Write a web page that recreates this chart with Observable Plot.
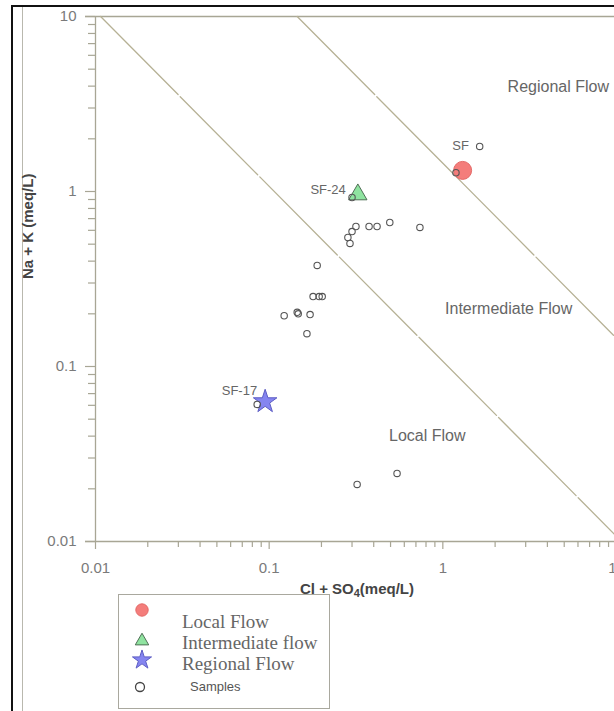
<!DOCTYPE html>
<html><head><meta charset="utf-8">
<script src="https://cdn.jsdelivr.net/npm/d3@7"></script>
<script src="https://cdn.jsdelivr.net/npm/@observablehq/plot@0.6"></script>
<style>
body{margin:0;background:#fff;}
#wrap{position:relative;width:614px;height:711px;overflow:hidden;font-family:"Liberation Sans",Arial,sans-serif;background:#fff;}
#frameBlack{position:absolute;left:11px;top:5px;width:800px;height:900px;border-left:2px solid #111;border-top:2px solid #111;}
#frameGray{position:absolute;left:22px;top:7px;width:0;height:900px;border-left:1px solid #b9b8ae;}
#chart{position:absolute;left:0;top:0;}
#legend{position:absolute;left:118px;top:594px;width:212px;height:115px;border:1px solid #a9a89e;box-sizing:border-box;background:#fff;}
#legend .lt{position:absolute;font-family:"Liberation Serif","Times New Roman",serif;font-size:19px;color:#666;line-height:19px;white-space:nowrap;}
#legend .ls{position:absolute;font-family:"Liberation Sans",Arial,sans-serif;font-size:13px;color:#555;line-height:14px;white-space:nowrap;}
#legend svg{position:absolute;left:0;top:0;}
</style></head>
<body>
<div id="wrap">
  <div id="frameBlack"></div>
  <div id="frameGray"></div>
  <div id="chart"></div>
  <div id="legend"></div>
</div>
<script>
// ---- data ----
const sampleX = [0.300,0.316,0.300,0.284,0.292,0.376,0.418,0.495,0.738,0.189,0.179,0.194,0.202,0.122,0.145,0.147,0.172,0.165,0.321,0.545,0.0853,1.19,1.63];
const sampleY = [0.924,0.631,0.590,0.546,0.505,0.631,0.631,0.665,0.623,0.378,0.251,0.251,0.251,0.195,0.204,0.200,0.198,0.154,0.0212,0.0245,0.0607,1.28,1.81];

const flowTypes = ["Local Flow","Intermediate flow","Regional Flow"];
const flowNames = ["SF","SF-24","SF-17"];
const flowX = [1.30,0.324,0.0948];
const flowY = [1.32,0.961,0.063];

const boundaryProducts = [0.107, 1.45];

const zoneLabels = ["Regional Flow","Intermediate Flow","Local Flow"];
const zoneX = [2.36,1.03,0.49];
const zoneY = [3.98,0.214,0.0403];

const majorTicks = [0.01,0.1,1,10];
const tickLabels = ["0.01","0.1","1","10"];
const minorMultipliers = [2,3,4,5,6,7,8,9];

const xTitle = "Cl + SO4(meq/L)";
const yTitle = "Na + K (meq/L)";
const legendSamples = "Samples";

// ---- derived tables ----
const samples = sampleX.map((x,i)=>({x, y: sampleY[i]}));
const flows = flowX.map((x,i)=>({x, y: flowY[i], name: flowNames[i], type: flowTypes[i]}));
const boundaries = boundaryProducts.flatMap((c,i)=>[{id:i,x:c/10,y:10},{id:i,x:10,y:c/10}]);
const zones = zoneLabels.map((t,i)=>({t, x: zoneX[i], y: zoneY[i]}));
const minorTicks = majorTicks.slice(0,3).flatMap(d => minorMultipliers.map(m => +(d*m).toPrecision(3)));
const fmt = d => tickLabels[majorTicks.indexOf(d)];

// pixel geometry of the log axes
const xPx = [95, 616], yPx = [541, 16];
const xDecade = (xPx[1]-xPx[0])/3, yDecade = (yPx[0]-yPx[1])/3;
const xOff = px => 0.01 * Math.pow(10, px / xDecade);   // x value px pixels right of 0.01
const yOff = px => 0.01 * Math.pow(10, px / yDecade);   // y value px pixels above 0.01

const axisColor = "#a8a695";
const lineColor = "#b6b195";
const font = "Liberation Sans, Arial, sans-serif";

const symbolFor = ["circle","triangle","star"];
const fillFor = ["#f47d7b","#8fe3a0","#8585f0"];
const strokeFor = ["#e46a68","#4f6f55","#5d5dc4"];
const rFor = [9,6.8,7.4];
const labelDx = [-2,-12,-8];
const labelDy = [-25,-5,-11];
const labelAnchor = ["middle","end","end"];

const chart = Plot.plot({
  width: 614, height: 600,
  marginLeft: 95, marginRight: 0, marginTop: 16, marginBottom: 59,
  x: {type:"log", domain:[0.01,10], range:xPx, axis: null},
  y: {type:"log", domain:[0.01,10], range:yPx, axis: null},
  style: {background:"transparent", fontFamily: font, overflow:"visible"},
  marks: [
    Plot.ruleX([0.01], {y1: 0.01, y2: 10, stroke: axisColor, strokeWidth: 1.3}),
    Plot.ruleY([0.01], {stroke: axisColor, strokeWidth: 1.3, x1: xOff(-10), x2: 10}),
    Plot.ruleY([10], {stroke: axisColor, strokeWidth: 1.3, x1: xOff(-10), x2: 10}),
    // y ticks
    Plot.ruleY(minorTicks, {y: d => d, x1: xOff(-7), x2: 0.01, stroke: axisColor, strokeWidth: 1.2}),
    Plot.ruleY(majorTicks, {y: d => d, x1: xOff(-10), x2: 0.01, stroke: axisColor, strokeWidth: 1.2}),
    Plot.text(majorTicks, {x: 0.01, y: d => d, text: fmt, dx: -19, textAnchor: "end", fill: "#7a7a7a", fontSize: 15}),
    // x ticks
    Plot.ruleX(minorTicks, {x: d => d, y1: 0.01, y2: yOff(-6), stroke: axisColor, strokeWidth: 1.2}),
    Plot.ruleX(majorTicks, {x: d => d, y1: 0.01, y2: yOff(-8), stroke: axisColor, strokeWidth: 1.2}),
    Plot.text(majorTicks, {x: d => d, y: 0.01, text: fmt, dy: 27, fill: "#7a7a7a", fontSize: 15}),
    // boundaries
    Plot.line(boundaries, {x:"x", y:"y", z:"id", stroke: lineColor, strokeWidth: 1.3, strokeDasharray: "110,3"}),
    Plot.text(zones, {x:"x", y:"y", text:"t", textAnchor:"start", fill:"#666", fontSize: 16}),
    ...flows.map((f,i) => Plot.dot([f], {x:"x", y:"y", symbol: symbolFor[i], r: rFor[i], fill: fillFor[i], stroke: strokeFor[i], strokeWidth: 1})),
    ...flows.map((f,i) => Plot.text([f], {x:"x", y:"y", text:"name", textAnchor: labelAnchor[i], dx: labelDx[i], dy: labelDy[i], fill:"#666", fontSize: 13})),
    Plot.dot(samples, {x:"x", y:"y", r: 3.2, stroke:"#555", strokeWidth: 1.1, fill:"none"}),
    Plot.text([xTitle], {frameAnchor:"bottom", dx: 2, dy: 52, fontWeight:"bold", fontSize: 15, fill:"#444"}),
    Plot.text([yTitle], {frameAnchor:"left", rotate: -90, dx: -67, fontWeight:"bold", fontSize: 15, fill:"#444"})
  ]
});
document.getElementById("chart").appendChild(chart);

// subscript in x title
d3.select(chart).selectAll("text").filter(function(){ return this.textContent === xTitle; }).each(function(){
  const t = d3.select(this);
  t.text(null);
  t.append("tspan").text("Cl + SO");
  t.append("tspan").attr("font-size","11").attr("dy","3").text("4");
  t.append("tspan").attr("dy","-3").text("(meq/L)");
});

// ---- legend ----
const legend = d3.select("#legend");
const lsvg = legend.append("svg").attr("width",210).attr("height",113);
const symMap = {circle: d3.symbolCircle, triangle: d3.symbolTriangle, star: d3.symbolStar};
const legSym = [{cx:23,cy:15,r:6.2},{cx:23,cy:46,r:5},{cx:23,cy:65,r:6}];
flows.forEach((f,i)=>{
  const s = legSym[i];
  lsvg.append("path")
    .attr("d", d3.symbol(symMap[symbolFor[i]], s.r*s.r*Math.PI)())
    .attr("transform", `translate(${s.cx},${s.cy})`)
    .attr("fill", fillFor[i]).attr("stroke", strokeFor[i]).attr("stroke-width",1);
  legend.append("div").attr("class","lt").style("left","63px").style("top", (17 + i*21) + "px").text(f.type);
});
lsvg.append("circle").attr("cx",21).attr("cy",92).attr("r",4.5).attr("fill","none").attr("stroke","#444").attr("stroke-width",1.3);
legend.append("div").attr("class","ls").style("left","71px").style("top","85px").text(legendSamples);
</script>
</body></html>
